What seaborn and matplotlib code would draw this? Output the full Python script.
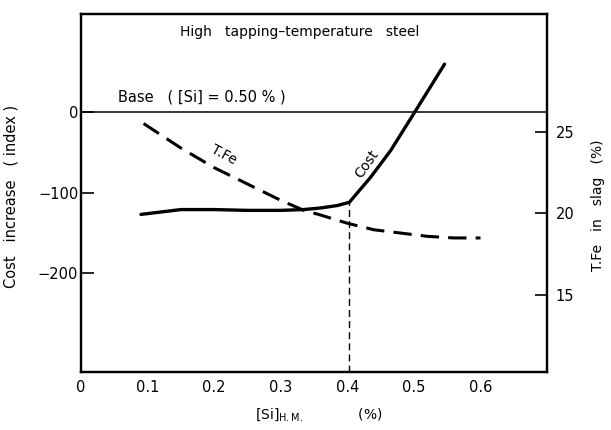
import matplotlib
matplotlib.use("Agg")
import matplotlib.pyplot as plt
import seaborn as sns
import numpy as np

# Silicon in hot metal (%) and relative cost increase (index)
si_cost = [0.09, 0.15, 0.20, 0.25, 0.30, 0.334, 0.36, 0.385, 0.403, 0.435, 0.465, 0.50, 0.546]
cost = [-127, -121, -121, -122, -122, -121, -119, -116, -112, -81, -48, -2, 59]

# Total iron content of the slag (%)
si_tfe = [0.094, 0.15, 0.20, 0.25, 0.30, 0.334, 0.36, 0.40, 0.44, 0.48, 0.52, 0.56, 0.60]
tfe = [25.5, 24.0, 22.8, 21.8, 20.8, 20.2, 19.9, 19.4, 19.0, 18.8, 18.6, 18.5, 18.5]

knee_index = 8  # point where cost starts to climb steeply
base_cost = 0

x_ticks = [0, 0.1, 0.2, 0.3, 0.4, 0.5, 0.6]
x_tick_labels = ["0", "0.1", "0.2", "0.3", "0.4", "0.5", "0.6"]
cost_ticks = [0, -100, -200]
tfe_ticks = [15, 20, 25]

sns.set_style("white")
plt.rcParams["font.family"] = ["DejaVu Sans"]
plt.rcParams["mathtext.fontset"] = "dejavusans"
for key in ("text.color", "axes.labelcolor", "xtick.color", "ytick.color"):
    plt.rcParams[key] = "black"

fig = plt.figure(figsize=(6.11, 4.30), dpi=100)
ax = fig.add_axes([0.1326, 0.1349, 0.7628, 0.8325])
ax2 = ax.twinx()

cost_ylim = (-322, 121)
tfe_ylim = (10.3, 32.2)

sns.lineplot(x=si_cost, y=cost, ax=ax, color="black", linewidth=2.4,
             estimator=None, sort=False)
sns.lineplot(x=si_tfe, y=tfe, ax=ax2, color="black", linewidth=2.2,
             estimator=None, sort=False)
ax2.lines[0].set_dashes([6, 3])

ax.axhline(base_cost, color="black", linewidth=1.1)
ax.vlines(si_cost[knee_index], cost_ylim[0], cost[knee_index],
          colors="black", linewidth=1.0, linestyles=(0, (5, 3)))

ax.set_xlim(0, 0.7)
ax.set_ylim(*cost_ylim)
ax2.set_ylim(*tfe_ylim)

ax.set_xticks(x_ticks)
ax.set_xticklabels(x_tick_labels)
ax.set_yticks(cost_ticks)
ax.set_yticklabels([f"\u2212{abs(v)}" if v < 0 else str(v) for v in cost_ticks])
ax2.set_yticks(tfe_ticks)

for a in (ax, ax2):
    for s in a.spines.values():
        s.set_visible(True)
        s.set_color("black")
        s.set_linewidth(1.6)

ax.tick_params(axis="x", direction="in", length=7, width=1.2, pad=6,
               labelsize=10.5, colors="black")
ax.tick_params(axis="y", direction="in", length=9, width=1.2, pad=2,
               labelsize=10.5, colors="black")
ax2.tick_params(axis="y", direction="in", length=9, width=1.2, pad=6,
                labelsize=10.5, colors="black")

ax.set_xlabel(r"[Si]$_{\mathrm{H.M.}}$            (%)", fontsize=10)
ax.xaxis.set_label_coords(0.51, -0.095)
ax.set_ylabel("Cost   increase   ( index )", fontsize=10.5)
ax.yaxis.set_label_coords(-0.135, 0.49)
ax2.set_ylabel("T.Fe   in   slag   (%)", fontsize=10)
ax2.yaxis.set_label_coords(1.095, 0.465)

ax.text(0.47, 0.95, "High   tapping\u2013temperature   steel",
        transform=ax.transAxes, ha="center", va="center", fontsize=10)
ax.text(0.079, 0.768, "Base   ( [Si] = 0.50 % )",
        transform=ax.transAxes, ha="left", va="center", fontsize=10.5)

ax2.text(0.215, 23.6, "T.Fe", rotation=-28, ha="center", va="center", fontsize=10)
ax.text(0.43, -65, "Cost", rotation=55, ha="center", va="center", fontsize=10)

fig.savefig("out.png", dpi=100, facecolor="white")
